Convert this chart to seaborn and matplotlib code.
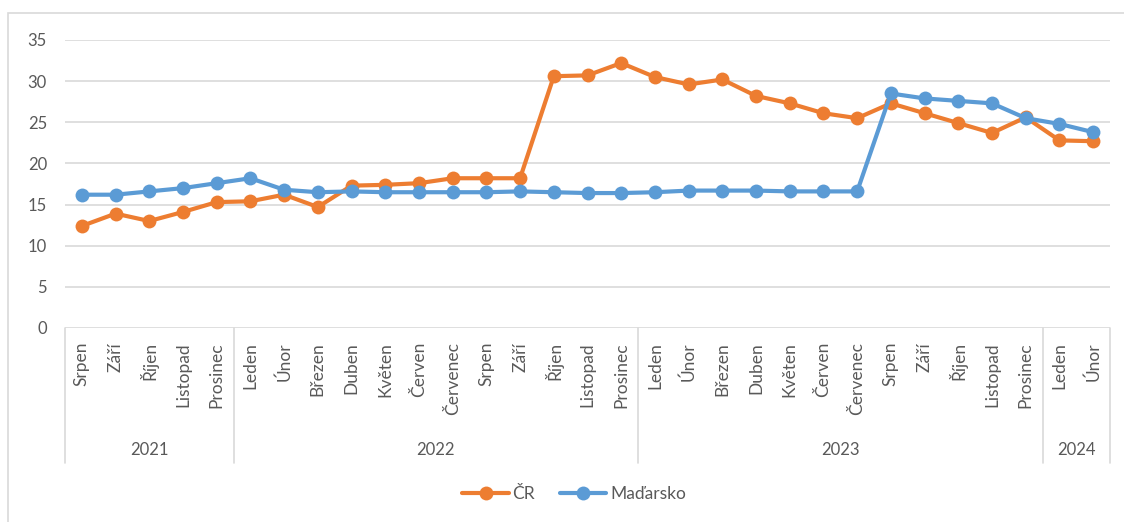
import numpy as np
import pandas as pd
import matplotlib
matplotlib.use("Agg")
import matplotlib.pyplot as plt
import seaborn as sns
from matplotlib.patches import Rectangle

# Data
months = ["Srpen", "Září", "Říjen", "Listopad", "Prosinec",
          "Leden", "Únor", "Březen", "Duben", "Květen", "Červen", "Červenec",
          "Srpen", "Září", "Říjen", "Listopad", "Prosinec",
          "Leden", "Únor", "Březen", "Duben", "Květen", "Červen", "Červenec",
          "Srpen", "Září", "Říjen", "Listopad", "Prosinec",
          "Leden", "Únor"]
years = ["2021", "2022", "2023", "2024"]
year_counts = [5, 12, 12, 2]

cr = [12.4, 13.9, 13.0, 14.1, 15.3,
      15.4, 16.2, 14.7, 17.3, 17.4, 17.6, 18.2,
      18.2, 18.2, 30.6, 30.7, 32.2,
      30.5, 29.6, 30.2, 28.2, 27.3, 26.1, 25.5,
      27.3, 26.1, 24.9, 23.7, 25.6,
      22.8, 22.7]
madarsko = [16.2, 16.2, 16.6, 17.0, 17.6,
            18.2, 16.8, 16.5, 16.6, 16.5, 16.5, 16.5,
            16.5, 16.6, 16.5, 16.4, 16.4,
            16.5, 16.7, 16.7, 16.7, 16.6, 16.6, 16.6,
            28.5, 27.9, 27.6, 27.3, 25.5,
            24.8, 23.8]

series_names = ["ČR", "Maďarsko"]
colors = {"ČR": "#ED7D31", "Maďarsko": "#5B9BD5"}

sns.set_style("white")
plt.rcParams['font.family'] = ['Lato', 'DejaVu Sans']
text_color = "#595959"
grid_color = "#D9D9D9"

idx = np.arange(len(months))
df = pd.concat([
    pd.DataFrame({"idx": idx, "value": cr, "series": "ČR"}),
    pd.DataFrame({"idx": idx, "value": madarsko, "series": "Maďarsko"}),
])

W, H = 1124, 522
fig = plt.figure(figsize=(W / 100, H / 100), dpi=100)
# outer chart border
fig.patches.append(Rectangle((8 / W, -0.1), 1.2, (522 - 13) / H + 0.1,
                             transform=fig.transFigure, fill=False,
                             edgecolor=grid_color, linewidth=1.2))

ax = fig.add_axes([65 / W, (H - 328) / H, (1110 - 65) / W, (328 - 40) / H])

sns.lineplot(data=df, x="idx", y="value", hue="series", hue_order=series_names,
             palette=colors, marker="o", markersize=10, markeredgewidth=0,
             linewidth=3, ax=ax, clip_on=False, zorder=3)

ax.set_xlim(-0.5, len(months) - 0.5)
ax.set_ylim(0, 35)
ax.set_yticks(np.arange(0, 36, 5))
ax.yaxis.grid(True, color=grid_color, linewidth=1.2)
ax.set_axisbelow(True)
for s in ax.spines.values():
    s.set_visible(False)
ax.set_xlabel("")
ax.set_ylabel("")
ax.tick_params(axis="y", length=0, pad=13, labelsize=12, labelcolor=text_color)
ax.set_xticks(idx)
ax.set_xticklabels(months, rotation=90, va="top", ha="center")
ax.tick_params(axis="x", length=0, pad=10, labelsize=12.5, labelcolor=text_color)

# year separators and year labels
trans = ax.get_xaxis_transform()
bottom = -(463 - 328) / 288
bounds = np.concatenate([[0], np.cumsum(year_counts)]) - 0.5
for b in bounds:
    ax.plot([b, b], [0, bottom], color=grid_color, linewidth=1.2,
            transform=trans, clip_on=False)
for i, y in enumerate(years):
    mid = (bounds[i] + bounds[i + 1]) / 2
    ax.text(mid, -(450 - 328) / 288, y, transform=trans, ha="center",
            va="center", fontsize=12, color=text_color)

handles, labels = ax.get_legend_handles_labels()
ax.legend(handles, labels, loc="center", bbox_to_anchor=(574 / W, (H - 494) / H),
          bbox_transform=fig.transFigure, ncol=2, frameon=False,
          handlelength=2.7, columnspacing=1.4, handletextpad=0.2,
          fontsize=12.5, labelcolor=text_color)

fig.savefig("out.png", dpi=100)
